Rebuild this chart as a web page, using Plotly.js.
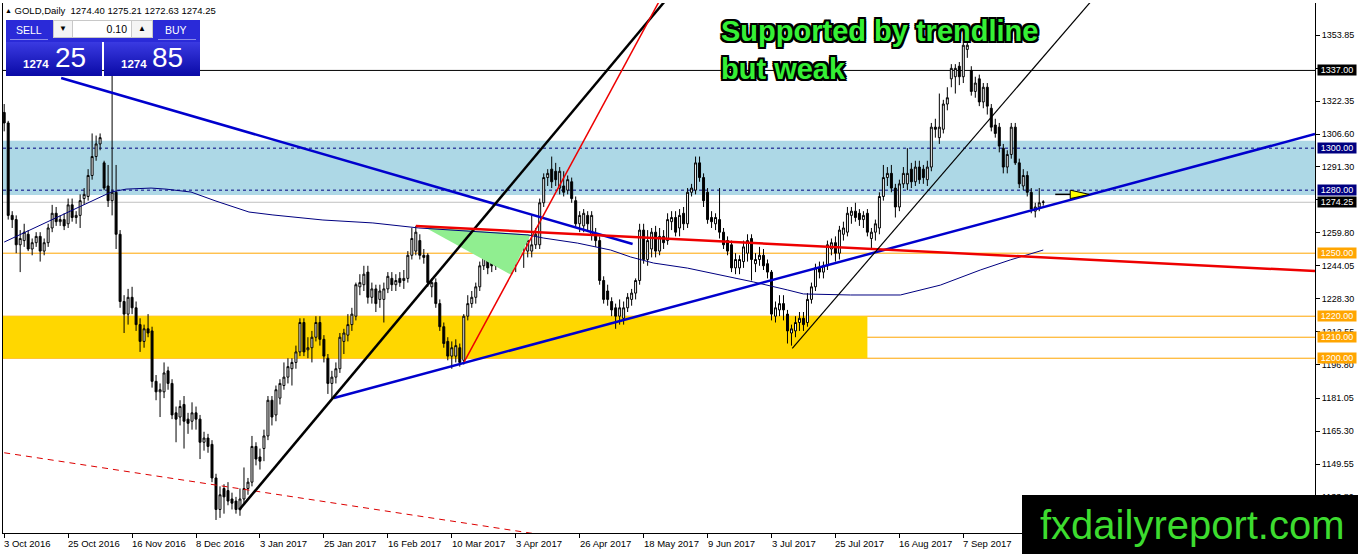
<!DOCTYPE html>
<html>
<head>
<meta charset="utf-8">
<script src="https://cdn.plot.ly/plotly-3.0.1.min.js"></script>
<style>
  body { margin: 0; background: #fff; }
  #wrap { position: relative; width: 1358px; height: 554px; overflow: hidden; font-family: 'Liberation Sans', Arial, sans-serif; }
  #chart { position: absolute; left: 0; top: 0; width: 1358px; height: 554px; }
  .abs { position: absolute; }
  #header { left: 5px; top: 5px; font-size: 9.5px; color: #000; white-space: pre; line-height: 12px; }
  #header .tri { font-size: 7px; vertical-align: 1px; }
  .btn { top: 20px; width: 46px; height: 22px; background: #2a2ad8; color: #fff; font-size: 10.5px; line-height: 21px; }
  .btn .rule { position: absolute; left: 4px; right: 4px; bottom: 2px; height: 1px; background: #8c8ce8; }
  #lot { left: 52px; top: 20px; width: 102px; height: 22px; background: #2a2ad8; }
  #lot .box { position: absolute; top: 0; height: 18px; background: #f4f4f4; border: 1px solid #c8c8c8; box-sizing: border-box; font-size: 10.5px; color: #000; line-height: 16px; text-align: center; }
  .big { top: 42px; width: 96px; height: 34px; background: linear-gradient(#3a3ae2, #0a0aa6); color: #fff; }
  .big .s { position: absolute; left: 17px; top: 17px; font-size: 11.5px; font-weight: bold; line-height: 1; }
  .big .b { position: absolute; top: 2px; font-size: 28px; line-height: 1; }
  #note { left: 721px; top: 12px; font-size: 29px; font-weight: bold; line-height: 38px; color: #35f035; white-space: pre;
          text-shadow: -2px -2px 0 #000, 2px -2px 0 #000, -2px 2px 0 #000, 2px 2px 0 #000, 0 -2px 0 #000, 0 2px 0 #000, -2px 0 0 #000, 2px 0 0 #000; }
  #brand { left: 1022px; top: 495px; width: 336px; height: 60px; background: #000; color: #3ddc2f; font-size: 40px; line-height: 60px; padding-left: 18px; box-sizing: border-box; white-space: pre; }
</style>
</head>
<body>
<div id="wrap">
  <div id="chart"></div>
  <div id="header" class="abs"><span class="tri">&#9650;</span> GOLD,Daily  1274.40 1275.21 1272.63 1274.25</div>
  <div class="abs btn" style="left:6px;"><span style="position:absolute;left:10px;">SELL</span><div class="rule"></div></div>
  <div id="lot" class="abs">
    <div class="box" style="left:1px;width:20px;font-size:8px;">&#9660;</div>
    <div class="box" style="left:20px;width:60px;background:#fff;text-align:right;padding-right:4px;">0.10</div>
    <div class="box" style="left:79px;width:22px;font-size:8px;">&#9650;</div>
  </div>
  <div class="abs btn" style="left:154px;"><span style="position:absolute;left:11px;">BUY</span><div class="rule"></div></div>
  <div class="abs big" style="left:6px;"><span class="s">1274</span><span class="b" style="left:49px;">25</span></div>
  <div class="abs big" style="left:104px;"><span class="s">1274</span><span class="b" style="left:48px;">85</span></div>
  <div id="note" class="abs">Supported by trendline
but weak</div>
  <div id="brand" class="abs">fxdailyreport.com</div>
</div>
<script>
// GOLD daily bars, 3 Oct 2016 .. early Oct 2017 (one row = 16 bars)
const barOpen = [
  1317,1312,1268,1266,1254,1256,1259,1252,1255,1258,1251,1255,1262,1269,1265,1266,
  1264,1273,1267,1268,1276,1277,1287,1296,1302,1293,1282,1275,1279,1259,1227,1221,
  1229,1224,1216,1208,1214,1213,1189,1184,1184,1194,1188,1174,1172,1178,1171,1170,
  1174,1171,1160,1162,1159,1143,1128,1138,1137,1133,1132,1128,1133,1138,1141,1158,
  1153,1157,1163,1180,1173,1181,1187,1191,1195,1198,1203,1217,1204,1205,1210,1217,
  1209,1200,1188,1191,1195,1208,1211,1216,1220,1234,1235,1241,1229,1233,1228,1228,
  1233,1238,1235,1238,1237,1238,1249,1251,1256,1249,1249,1234,1236,1226,1215,1208,
  1201,1201,1205,1199,1220,1226,1229,1234,1244,1249,1248,1244,1251,1253,1253,1250,
  1249,1253,1254,1251,1251,1254,1254,1274,1286,1290,1289,1281,1282,1280,1284,1275,
  1264,1263,1268,1259,1259,1256,1237,1232,1227,1224,1220,1219,1224,1228,1231,1237,
  1261,1247,1252,1260,1251,1258,1256,1265,1267,1262,1269,1264,1279,1280,1293,1286,
  1279,1267,1264,1266,1260,1256,1254,1243,1243,1246,1250,1257,1245,1247,1249,1245,
  1241,1220,1223,1226,1221,1212,1213,1217,1219,1217,1228,1234,1243,1241,1244,1252,
  1255,1250,1259,1260,1268,1270,1269,1266,1269,1257,1260,1262,1277,1286,1288,1281,
  1272,1283,1283,1290,1284,1291,1290,1285,1291,1310,1305,1309,1321,1333,1334,1339,
  1334,1347,1337,1327,1333,1322,1329,1319,1311,1310,1300,1291,1297,1310,1293,1282,
  1287,1279,1270,1272,1274.40
];
const barHigh = [
  1321,1313,1270,1268,1261,1264,1261,1257,1260,1260,1257,1264,1273,1272,1268,1269,
  1276,1276,1270,1278,1281,1290,1307,1306,1307,1294,1292,1337,1292,1261,1230,1233,
  1234,1227,1219,1216,1221,1215,1192,1188,1198,1196,1190,1177,1180,1182,1174,1179,
  1177,1173,1165,1164,1161,1145,1139,1140,1141,1136,1134,1138,1148,1143,1163,1160,
  1157,1166,1182,1182,1187,1190,1198,1200,1200,1206,1219,1219,1210,1213,1220,1220,
  1211,1202,1194,1198,1212,1214,1221,1224,1236,1240,1244,1244,1236,1235,1235,1236,
  1241,1241,1240,1241,1242,1251,1262,1263,1259,1252,1250,1238,1238,1228,1217,1210,
  1208,1209,1207,1221,1230,1232,1236,1246,1251,1252,1250,1260,1258,1257,1256,1252,
  1255,1258,1258,1259,1268,1262,1276,1288,1290,1296,1293,1291,1289,1287,1286,1277,
  1270,1271,1270,1270,1262,1258,1239,1235,1229,1226,1228,1227,1231,1233,1238,1264,
  1264,1261,1262,1263,1262,1261,1269,1270,1270,1271,1272,1281,1283,1296,1296,1288,
  1281,1270,1269,1281,1262,1258,1256,1250,1249,1256,1259,1259,1250,1253,1252,1247,
  1242,1227,1230,1230,1223,1216,1220,1222,1222,1231,1236,1245,1246,1246,1256,1257,
  1258,1263,1265,1272,1272,1274,1271,1270,1271,1262,1266,1279,1292,1291,1292,1283,
  1285,1291,1300,1293,1294,1294,1292,1294,1312,1314,1326,1323,1329,1340,1340,1341,
  1352,1357,1339,1334,1335,1331,1331,1321,1314,1312,1302,1299,1312,1312,1295,1290,
  1289,1281,1274,1281,1275.21
];
const barLow = [
  1308,1266,1262,1250,1241,1253,1251,1249,1253,1246,1249,1253,1260,1263,1263,1261,
  1262,1265,1264,1262,1273,1275,1285,1294,1299,1280,1272,1268,1252,1224,1212,1216,
  1221,1213,1203,1205,1210,1186,1180,1172,1181,1185,1171,1160,1168,1157,1164,1166,
  1166,1152,1156,1155,1141,1123,1124,1126,1130,1128,1126,1125,1131,1135,1139,1149,
  1147,1151,1161,1168,1170,1178,1185,1188,1187,1195,1201,1201,1200,1198,1208,1206,
  1198,1183,1181,1188,1193,1202,1208,1213,1218,1230,1232,1226,1226,1222,1224,1217,
  1231,1232,1232,1234,1233,1236,1247,1249,1247,1245,1234,1229,1224,1213,1205,1199,
  1195,1198,1196,1197,1218,1224,1226,1232,1242,1240,1241,1242,1248,1248,1241,1240,
  1241,1250,1243,1248,1248,1252,1252,1272,1282,1281,1282,1278,1277,1278,1274,1262,
  1260,1260,1261,1256,1253,1235,1226,1225,1220,1214,1216,1216,1222,1225,1228,1235,
  1245,1244,1248,1248,1249,1252,1254,1261,1258,1258,1261,1262,1277,1278,1284,1272,
  1264,1262,1261,1257,1252,1249,1241,1240,1240,1243,1246,1237,1241,1244,1242,1238,
  1218,1217,1220,1218,1207,1206,1210,1213,1213,1215,1226,1232,1238,1238,1242,1249,
  1246,1247,1256,1258,1264,1265,1263,1262,1258,1252,1256,1259,1275,1282,1279,1267,
  1270,1281,1280,1281,1282,1283,1283,1282,1289,1305,1302,1307,1318,1329,1326,1330,
  1331,1343,1325,1324,1320,1319,1316,1308,1305,1298,1288,1288,1295,1292,1281,1280,
  1277,1269,1267,1270,1272.63
];
const barClose = [
  1312,1268,1266,1254,1257,1260,1252,1255,1258,1251,1255,1262,1269,1265,1266,1263,
  1273,1267,1268,1275,1278,1287,1296,1302,1305,1281,1275,1279,1259,1227,1221,1229,
  1224,1216,1208,1214,1212,1189,1184,1185,1193,1188,1173,1171,1177,1170,1169,1174,
  1171,1160,1162,1158,1143,1128,1135,1134,1132,1131,1128,1133,1138,1141,1158,1152,
  1151,1163,1180,1172,1185,1188,1191,1196,1198,1203,1217,1203,1205,1210,1217,1209,
  1201,1188,1191,1195,1210,1212,1216,1221,1235,1236,1240,1229,1233,1226,1232,1233,
  1239,1235,1237,1236,1238,1249,1257,1260,1249,1248,1236,1236,1226,1215,1207,1201,
  1205,1206,1198,1220,1226,1229,1234,1244,1249,1243,1244,1254,1254,1250,1243,1242,
  1253,1256,1256,1256,1254,1259,1274,1286,1288,1284,1285,1289,1279,1285,1276,1264,
  1268,1269,1264,1268,1256,1237,1228,1228,1223,1220,1224,1224,1229,1231,1237,1261,
  1247,1256,1260,1251,1258,1255,1266,1267,1260,1268,1264,1279,1281,1293,1286,1275,
  1266,1265,1267,1260,1254,1251,1243,1247,1247,1253,1256,1247,1247,1249,1244,1241,
  1221,1224,1226,1223,1213,1214,1217,1219,1216,1228,1234,1243,1241,1244,1254,1255,
  1250,1261,1262,1269,1270,1267,1266,1268,1260,1260,1264,1277,1286,1288,1281,1272,
  1283,1288,1288,1284,1291,1285,1286,1291,1310,1309,1310,1321,1324,1338,1338,1334,
  1349,1349,1327,1331,1322,1329,1320,1310,1307,1301,1291,1297,1310,1293,1283,1287,
  1279,1271,1272,1274,1274.25
];

// date labels every 16 bars
const tickBars = [0, 16, 32, 48, 64, 80, 96, 112, 128, 144, 160, 176, 192, 208, 224, 240];
const tickLabels = ['3 Oct 2016', '25 Oct 2016', '16 Nov 2016', '8 Dec 2016', '3 Jan 2017', '25 Jan 2017',
  '16 Feb 2017', '10 Mar 2017', '3 Apr 2017', '26 Apr 2017', '18 May 2017', '9 Jun 2017',
  '3 Jul 2017', '25 Jul 2017', '16 Aug 2017', '7 Sep 2017'];

// price scale labels
const priceTicks = ['1353.85', '1338.10', '1322.35', '1306.60', '1291.30', '1275.55', '1259.80', '1244.05',
  '1228.30', '1212.55', '1196.80', '1181.05', '1165.30', '1149.55', '1133.80'];

// moving average
const maBars = [0, 26.75, 30.5, 36.75, 40.5, 46.75, 53, 61.25, 67.25, 79.75, 92.25, 103.75, 131, 135,
  143.5, 151.75, 156.75, 162.5, 171, 179.25, 187.5, 196, 200, 211.75, 224.25, 234.25, 244.25, 251.75, 260];
const maValues = [1255.3, 1279.1, 1280.5, 1281, 1280.5, 1279.1, 1274.8, 1269.6, 1268.2, 1265.8, 1264.4, 1262, 1258.7, 1257.2,
  1254.8, 1251.5, 1248.2, 1245.3, 1242.9, 1239.6, 1236.3, 1232.5, 1230.6, 1230.1, 1230.1, 1234.8, 1242, 1246.8, 1251.5];

// horizontal levels and zones
const levelPrices = [1337, 1300, 1280, 1274.25, 1250, 1220, 1210, 1200];
const levelLabels = ['1337.00', '1300.00', '1280.00', '1274.25', '1250.00', '1220.00', '1210.00', '1200.00'];
const resistZone = [1277.7, 1303.5];
const supportZone = [1200, 1220];
const supportZoneBars = [-1, 216];

// drawn trendlines: [bar, bar] / [price, price]
const blueFallBars = [14.25, 157.25], blueFallPrices = [1333.4, 1254.4];
const blueRiseBars = [82.5, 328], blueRisePrices = [1181.1, 1306.7];
const blackRiseBars = [58.8, 166], blackRisePrices = [1127.8, 1371.5];
const redRiseBars = [115.1, 165], redRisePrices = [1198.3, 1373.8];
const redFlatBars = [103, 328], redFlatPrices = [1262.9, 1241.5];
const redDashBars = [0, 135], redDashPrices = [1155.0, 1115.8];
const blackThinBars = [197.2, 275], blackThinPrices = [1204.7, 1376.6];
const wedgeBars = [105.1, 131.75, 126.75, 105.1], wedgePrices = [1262.5, 1258.9, 1239.8, 1262.5];
const arrowStemBars = [263, 266.75], arrowStemPrices = [1278, 1278];
const arrowHeadBars = [266.75, 266.75, 271.5, 266.75], arrowHeadPrices = [1280, 1276, 1278, 1280];

const FONT = 'Liberation Sans, Arial, sans-serif';

// looks for each level, same order as levelPrices
const levelLook = [
  { line: '#000000', dash: 'solid', box: '#000000' },
  { line: '#000080', dash: '3px,3px', box: '#000080' },
  { line: '#000080', dash: '3px,3px', box: '#000080' },
  { line: '#c0c0c0', dash: 'solid', box: '#000000' },
  { line: '#ffa500', dash: 'solid', box: '#ffa500' },
  { line: '#ffa500', dash: 'solid', box: '#ffa500' },
  { line: '#ffa500', dash: 'solid', box: '#ffa500' },
  { line: '#ffa500', dash: 'solid', box: '#ffa500' }
];

function segment(xs, ys, color, width, dash) {
  return {
    type: 'scatter', mode: 'lines', x: xs, y: ys,
    line: { color: color, width: width, dash: dash || 'solid' },
    hoverinfo: 'skip', showlegend: false
  };
}

const barX = barOpen.map((_, i) => i);

const data = [
  {
    type: 'scatter', mode: 'lines', x: wedgeBars, y: wedgePrices, fill: 'toself',
    fillcolor: '#90ee90', line: { width: 0, color: '#90ee90' }, hoverinfo: 'skip', showlegend: false
  },
  {
    type: 'candlestick', x: barX, open: barOpen, high: barHigh, low: barLow, close: barClose,
    increasing: { line: { color: '#000000', width: 1 }, fillcolor: '#ffffff' },
    decreasing: { line: { color: '#000000', width: 1 }, fillcolor: '#000000' },
    whiskerwidth: 0, hoverinfo: 'skip', showlegend: false
  },
  segment(maBars, maValues, '#000080', 1),
  segment(redDashBars, redDashPrices, '#dd0000', 1, '6px,5px'),
  segment(blueFallBars, blueFallPrices, '#0000cd', 2.5),
  segment(blueRiseBars, blueRisePrices, '#0000cd', 2.5),
  segment(blackRiseBars, blackRisePrices, '#000000', 2.5),
  segment(redRiseBars, redRisePrices, '#ee0000', 1.5),
  segment(redFlatBars, redFlatPrices, '#ee0000', 2.5),
  segment(blackThinBars, blackThinPrices, '#000000', 1.2),
  segment(arrowStemBars, arrowStemPrices, '#000000', 1.5),
  {
    type: 'scatter', mode: 'lines', x: arrowHeadBars, y: arrowHeadPrices, fill: 'toself',
    fillcolor: '#ffff00', line: { width: 1, color: '#000000' }, hoverinfo: 'skip', showlegend: false
  }
];

const shapes = [
  {
    type: 'rect', layer: 'below', xref: 'paper', x0: 0, x1: 1, yref: 'y',
    y0: resistZone[0], y1: resistZone[1], fillcolor: '#add8e6', line: { width: 0 }
  },
  {
    type: 'rect', layer: 'below', xref: 'x', x0: supportZoneBars[0], x1: supportZoneBars[1], yref: 'y',
    y0: supportZone[0], y1: supportZone[1], fillcolor: '#ffd700', line: { width: 0 }
  }
];
levelPrices.forEach((p, i) => {
  shapes.push({
    type: 'line', layer: 'below', xref: 'paper', x0: 0, x1: 1, yref: 'y', y0: p, y1: p,
    line: { color: levelLook[i].line, width: 1, dash: levelLook[i].dash }
  });
});

const annotations = [];
levelPrices.forEach((p, i) => {
  annotations.push({
    xref: 'paper', x: 1, xanchor: 'left', xshift: 2, yref: 'y', y: p, yanchor: 'middle',
    text: levelLabels[i], showarrow: false, bgcolor: levelLook[i].box, borderpad: 0, width: 38, align: 'center',
    font: { family: FONT, size: 9, color: '#ffffff' }
  });
});
tickBars.forEach((b, i) => {
  annotations.push({
    xref: 'x', x: b, xanchor: 'left', xshift: -2, yref: 'paper', y: 0, yanchor: 'top', yshift: -3,
    text: tickLabels[i], showarrow: false, font: { family: FONT, size: 9.5, color: '#000000' }
  });
});

const layout = {
  width: 1358, height: 554,
  margin: { l: 3, r: 43, t: 3, b: 21, pad: 0 },
  paper_bgcolor: '#ffffff', plot_bgcolor: '#ffffff',
  showlegend: false,
  xaxis: {
    range: [-0.3, 328], showgrid: false, zeroline: false,
    showline: true, linecolor: '#000000', linewidth: 1,
    ticks: 'outside', ticklen: 4, tickcolor: '#000000', tickvals: tickBars,
    showticklabels: false, rangeslider: { visible: false }, fixedrange: true
  },
  yaxis: {
    side: 'right', range: [1116.8, 1369.1], showgrid: false, zeroline: false,
    showline: true, mirror: true, linecolor: '#000000', linewidth: 1,
    ticks: 'outside', ticklen: 4, tickcolor: '#000000',
    tickvals: priceTicks.map(Number), ticktext: priceTicks,
    tickfont: { family: FONT, size: 9, color: '#000000' }, fixedrange: true
  },
  shapes: shapes,
  annotations: annotations
};

Plotly.newPlot('chart', data, layout, { displayModeBar: false, staticPlot: true });
</script>
</body>
</html>
